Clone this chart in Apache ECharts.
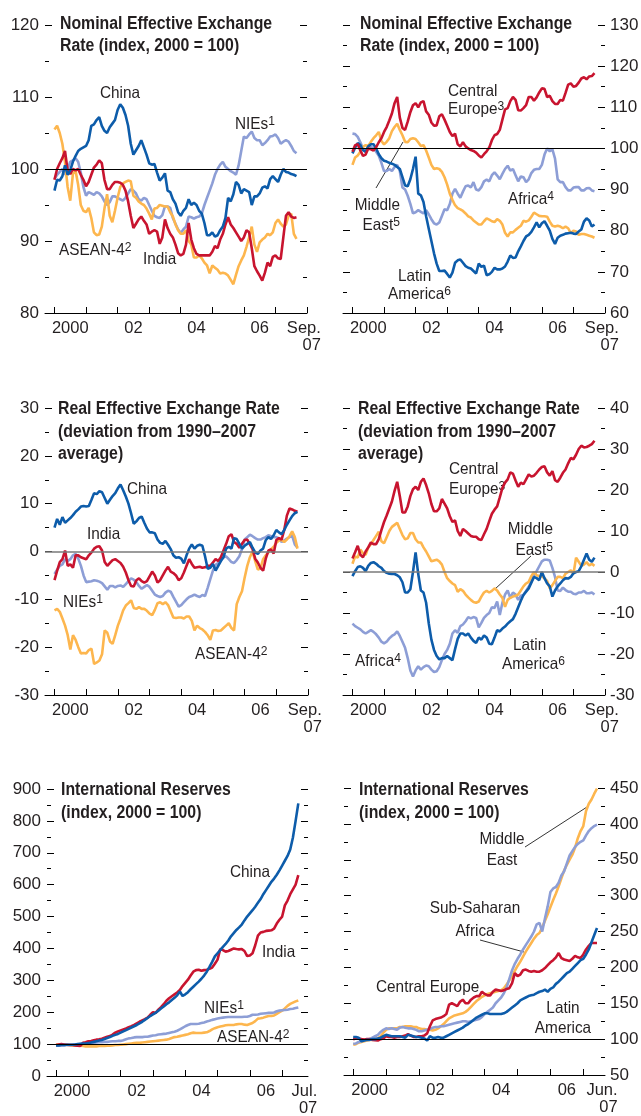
<!DOCTYPE html>
<html>
<head>
<meta charset="utf-8">
<script src="https://cdn.jsdelivr.net/npm/echarts@6.0.0/dist/echarts.min.js"></script>
<style>
html, body { margin: 0; padding: 0; background: #fff; }
#chart { width: 641px; height: 1116px; }
</style>
</head>
<body>
<div id="chart"></div>
<script>
// monthly data, Jan 2000 onwards
var yearTicks = [2000, 2001, 2002, 2003, 2004, 2005, 2006, 2007, 2008];
var yearLabels = ['2000', '02', '04', '06'];
var yearLabelPos = [2000.5, 2002.5, 2004.5, 2006.5];

// 1. nominal effective exchange rate, Asia
var nomChina = [97, 98.5, 98.4, 99, 100.5, 99.2, 99.8, 101, 101.8, 102.5,
  102.8, 103, 103.2, 104, 106, 106.2, 106.8, 107.2, 106, 105.3,
  105, 105.8, 106.3, 106.8, 108.2, 109, 108.5, 107.5, 106, 103.5,
  102, 102.6, 103.2, 104, 103, 102, 100.8, 100.6, 100.7, 99.5,
  98.4, 98.8, 99.4, 97, 96.8, 95.8, 95.2, 94, 93.5, 94.2,
  94.6, 95.8, 95, 95.3, 95, 94.2, 93.8, 92.5, 90.8, 90.8,
  91.2, 90.6, 90.8, 91.5, 92, 93.2, 96, 95.5, 96.5, 98.2,
  97.8, 96.6, 97.2, 97, 96.8, 95, 96.2, 96.2, 96.6, 97.4,
  97.6, 97.3, 98.6, 99, 98.6, 98.2, 99.2, 100, 99.6, 99.5,
  99.3, 99.2, 99];
var nomAsean = [105.5, 106, 105, 103.5, 101, 97.5, 95.6, 99.3, 99.8, 97.8,
  95, 94.2, 94, 94.6, 93.2, 91.2, 90.8, 90.9, 92, 94.5,
  96.5, 93.5, 92.6, 94.2, 96, 97.5, 98, 98.2, 98.4, 98.3,
  96.3, 96, 95.5, 95.2, 95, 94.5, 93.8, 93, 94.5, 94.6,
  95, 94.9, 94.8, 94.8, 94, 93.4, 92.3, 91.5, 91, 91,
  91.5, 90, 89.5, 87.7, 87.7, 88, 87.6, 87, 86.6, 85.5,
  86.6, 86.3, 86, 85.5, 85.6, 85.5, 85.2, 84.6, 84, 85.3,
  86.5, 87.3, 88, 89.2, 90.5, 92, 89.5, 88.5, 89.8, 90.2,
  90.5, 91, 90.8, 91.2, 92.5, 93, 92.4, 92, 92.3, 93.5,
  93.8, 91, 90.3];
var nomIndia = [98.5, 100, 100.8, 101.5, 102.5, 99.8, 99.3, 100, 99.8, 100,
  99.2, 98.5, 97.6, 98.2, 99.2, 100.2, 100.6, 101.2, 100.8, 98.5,
  97.2, 97.2, 97.8, 98.2, 98.2, 98.1, 97.8, 97, 95.5, 93.5,
  91.8, 92.4, 93, 93.4, 92.8, 92.3, 91, 91.3, 91.5, 91.3,
  89.6, 90.5, 93, 91.8, 91, 90.5, 89.5, 88.3, 88, 88.2,
  89.5, 92.5, 90.2, 89, 88.2, 88, 88, 88, 88, 88,
  88.5, 89.3, 89, 90.2, 91, 92.3, 93.3, 92.3, 91.8, 91.2,
  90.6, 90, 90.5, 91.5, 91.2, 89, 86.5, 85.8, 85.2, 84.5,
  85.6, 87, 86.5, 87.8, 88, 87.6, 87.5, 90.5, 93.5, 94,
  93.4, 93.2, 93.3];
var nomNies = [98.6, 99.2, 99.6, 100, 99.2, 100, 101, 101.2, 101.5, 101,
  99.5, 97.5, 96.3, 96.8, 96.6, 96.4, 96.8, 96.6, 96.2, 95.5,
  95, 95.4, 96.2, 96.2, 96, 95.8, 95.6, 96, 96.6, 97.2,
  97, 96.6, 95.8, 95.6, 96, 95.8, 95, 94.2, 93.5, 93.3,
  93.2, 93.6, 94.8, 94.8, 94.6, 93.2, 92.4, 91.6, 91.1, 91.6,
  92, 93.4, 93.3, 93.1, 93.3, 93.4, 93.8, 95, 96, 97,
  98, 99.2, 100, 100.6, 101, 100.3, 100, 99.7, 99.5, 99.2,
  100.5, 102.5, 104.5, 104.3, 104.8, 105.2, 104.3, 104, 104, 103.3,
  103.6, 104, 104.5, 104.6, 104.8, 104.3, 103.5, 103.8, 104, 103.8,
  103.2, 102.5, 102.2];

// 2. nominal effective exchange rate, other regions
var nomCentEur = [99.2, 100.8, 101, 99.5, 98.2, 98.5, 100, 99.8, 99.5, 100.3,
  101.5, 102.5, 104, 105.2, 106.8, 108.5, 111, 112.5, 107.5, 105,
  104.5, 106.5, 108.8, 110.5, 111, 110, 111.2, 111.5, 109, 108.2,
  106.3, 105.5, 105.6, 107.8, 108.3, 107, 105.5, 104, 103, 103.6,
  101, 100.5, 101.5, 100.5, 100, 99.6, 99.4, 99, 98.3, 97.8,
  98.6, 99.3, 100.2, 102, 103.2, 103.5, 104.5, 107, 109.5, 109.8,
  111.5, 112.5, 111.8, 109.3, 109.2, 109.8, 110.5, 112.5, 112.5, 111.6,
  112.4, 113.6, 114.6, 114.5, 112.5, 112.8, 111.5, 110.8, 110.8, 111.8,
  111.6, 113.5, 115.5, 115.8, 115, 115.2, 116, 117, 117.3, 116.8,
  117.5, 117.6, 118.3];
var nomMidEast = [96, 97.8, 98.3, 99.2, 100.4, 100.8, 100.6, 101.6, 102.5, 103.2,
  104, 101.8, 101, 101.6, 102.5, 104.2, 105.2, 106, 104.5, 103.2,
  101.6, 101.5, 102.3, 102.5, 102.3, 101.5, 100.6, 100.8, 99.5, 97.8,
  96, 95, 95.2, 95, 94.3, 93, 91.2, 89, 87.5, 86.2,
  85.5, 85.2, 84.8, 84.2, 83.5, 83.2, 82.5, 82, 81.5, 81.5,
  82.3, 83, 82.7, 82.3, 82.1, 82.8, 82.4, 81.5, 79.5, 78.6,
  79.6, 79.6, 80.2, 80.7, 81.2, 82.4, 82.2, 82.5, 83.4, 84.4,
  84, 83.6, 83.5, 83.5, 83.4, 82.2, 81.2, 81, 81.2, 81,
  80.6, 81, 80.6, 79.4, 80, 79.8, 79, 79.2, 79.2, 79,
  78.8, 78.6, 78.3];
var nomAfrica = [103.6, 103.5, 102.8, 101.5, 100, 99, 100.8, 100.4, 100, 99.2,
  98.2, 96.5, 94.5, 94.5, 95, 94.5, 95.5, 96, 94.5, 90.5,
  90, 88.5, 86.5, 84.2, 84.5, 85, 84.6, 84.2, 85, 84,
  82.8, 81.8, 81.5, 82, 83.6, 85.2, 85, 86.5, 89, 90.2,
  89, 88, 89.5, 90.8, 91, 90.5, 91.8, 90, 89.8, 90.6,
  92, 92.4, 92, 93.5, 94.2, 93.4, 92.5, 93.8, 95, 95.8,
  94.6, 95, 93.5, 92, 93.2, 93, 91.8, 92.5, 94, 94.8,
  95, 95, 96, 98.5, 100, 99.3, 99.8, 97.5, 92.5, 91.8,
  91.8, 90.6, 89.8, 89.8, 90.5, 90.6, 90.6, 89.8, 89.8, 90.3,
  90.4, 89.8, 89.6];
var nomLatAm = [98.8, 100.2, 101.3, 100.8, 99.6, 99.2, 100.5, 101, 101, 100,
  98.6, 97.6, 97, 96.8, 96.5, 96.3, 96, 95.5, 95, 93,
  91, 90.8, 92.5, 95, 98, 89, 88.6, 87, 83.5, 80.5,
  77.5, 74.5, 72, 70.2, 70.2, 70.3, 69.5, 68.6, 69.8, 72.2,
  72.8, 73, 72.2, 71.4, 71, 70.8, 70.2, 69.6, 72, 71.2,
  71.5, 69.2, 69.4, 70, 71, 70.6, 70.6, 70.8, 71.3, 72.5,
  74, 73.4, 73.5, 75, 76.2, 77.5, 78.6, 79, 79.7, 80.8,
  82, 80.8, 81.8, 82.3, 81.2, 80, 78, 76.8, 78.3, 78.8,
  79, 79.3, 79.4, 79.5, 79.3, 79.2, 79.8, 80.3, 82.2, 83,
  82.5, 81, 81.5];

// 3. real effective exchange rate, Asia
var realChina = [5, 6.8, 5.6, 7.2, 6, 6.5, 7, 7.6, 8.3, 8.8,
  9.4, 9.5, 9.4, 9.5, 10.8, 12.2, 12, 12.6, 12.4, 11.2,
  10, 10.8, 11.6, 12.2, 13.2, 14, 12.8, 11.5, 10, 8,
  5.8, 6.3, 7, 7.3, 6, 4.8, 4, 4, 3.8, 2.5,
  1.8, 1.6, 2.2, 1.4, 0.5, -0.8, -1.3, -1.2, -1.5, -2.5,
  -0.8, 0.6, 1.5, 0.6, 1.2, 1.4, 1.2, -1, -3.6, -3.4,
  -2.6, -4, -3, -2, -1.2, 0.6, 1, 0.6, 2.8, 2.6,
  1.6, 0.6, 1.2, 1.6, 2, 0.8, -0.2, -0.5, 0.2, 0.6,
  2.4, 3, 2.6, 3.4, 4.5, 4, 3.6, 4.5, 5.6, 6.5,
  7.4, 8, 8.3];
var realIndia = [-6, -4, -2.2, -1.6, 0.2, -3, -2.7, -3.4, -0.8, -0.8,
  -1.2, -1.4, -1.6, -0.8, -0.2, 0.6, 1, 1.1, 0.2, -2.2,
  -3, -2.4, -1.8, -1.6, -2, -2.4, -3.2, -4.4, -6, -7.2,
  -7.3, -6, -5.6, -6.2, -6.5, -6.2, -5.2, -4.2, -5, -6.5,
  -6, -5, -4, -3.2, -4.2, -4.5, -5, -6, -5.6, -4.4,
  -3, -1.6, -2.6, -3.4, -3.3, -3.2, -3.4, -3.3, -3, -3,
  -2.3, -1.6, -2, -1.2, 0.2, 1.6, 3.2, 3.6, 2, 1.6,
  0.8, 1.6, 2.4, 2.5, 1.5, 0.5, -1.5, -2.3, -3.4, -4,
  -1.5, 0.2, 0.4, -0.4, 2.4, 2.8, 2.5, 4.5, 7.5, 9,
  8.8, 8.5, 8.3];
var realNies = [-4.7, -3.8, -3, -2.7, -1.6, -2, -1.6, -0.8, -0.5, -1.5,
  -3, -5, -6.4, -6.3, -6.2, -6, -6.1, -6.3, -6.6, -7.3,
  -8, -7.2, -7.2, -7.5, -7.2, -7.1, -7.4, -6.8, -6.2, -5.6,
  -5.9, -6.4, -7.2, -7.8, -7.4, -7, -7.4, -8.2, -9, -9.3,
  -9.5, -9.3, -8.6, -8.2, -8.4, -9.5, -10.5, -11.5, -11.2, -10.6,
  -10, -9.5, -9.3, -9, -9.3, -9.5, -9.1, -9.3, -7.6, -5.8,
  -4, -2.8, -2.4, -1.6, -1.2, -1, -1.6, -2.2, -2.4, -1.8,
  -1, 0.5, 2.5, 3, 3.5, 3.2, 2.8, 2.5, 2.5, 2.8,
  3, 3.4, 3.2, 3, 3, 2.8, 2, 2.3, 2.7, 3,
  3.3, 1.5, 0.8];
var realAsean = [-12.3, -12, -12.6, -14, -15.5, -17.5, -20.5, -17.5, -18.5, -20,
  -21.3, -21.2, -21.3, -20.6, -20.3, -23.5, -23.2, -22.8, -21.5, -16.5,
  -17, -18.8, -19.3, -17.5, -15.5, -14, -12.3, -11.3, -10.8, -10.2,
  -11.8, -12, -11.6, -12, -12, -12.4, -13, -13.3, -12.2, -10.8,
  -10.6, -11, -10.6, -11.2, -12.5, -13.8, -13.9, -13.8, -13.8, -14,
  -13.6, -13.6, -14.5, -16.5, -15.5, -16, -16.3, -16.8, -17.5, -18.5,
  -16.5, -16.4, -16.6, -16.5, -16, -15.5, -15, -16, -16.5, -11,
  -9.5, -8.3, -5.5, -3, -1.2, 0, -2, -3.8, -3.5, -1.6,
  -0.8, -0.2, 0.5, 1, 1.8, 2.3, 2.4, 2, 2.5, 3.2,
  4.2, 3, 0.6];

// 4. real effective exchange rate, other regions
var realCentEur = [3.3, 4.8, 6.4, 4.2, 3.6, 5, 6, 7.2, 6.8, 6.8,
  8, 10.2, 12.2, 13.8, 15.5, 17.2, 19.8, 22, 18.5, 14.5,
  14.5, 16, 18.5, 20.2, 20.8, 20, 22, 22.8, 21.2, 19.2,
  16.6, 14.8, 14.8, 15.5, 17.8, 16.7, 15.5, 13.6, 12.2, 12.6,
  10, 8.8, 10.5, 10, 9.4, 8.8, 8.6, 8.6, 8, 7.8,
  9.2, 10.5, 12.4, 14.2, 15.2, 16, 18.2, 20.5, 21.8, 22.6,
  24.3, 24, 22.3, 20.8, 21.8, 21.4, 22.6, 23.8, 23.3, 23.5,
  24.2, 25, 25.6, 25.8, 24.3, 23.5, 24.6, 22.4, 22, 23,
  24.2, 25, 26.5, 27.8, 27.5, 28.6, 30, 30.8, 30.4, 30.5,
  30.8, 31.2, 32];
var realMidEast = [2, 3.8, 3.5, 5.5, 4.6, 4.2, 6, 6.8, 7.8, 8.8,
  9.8, 7.5, 7, 8.5, 10, 11, 11.5, 12, 10.5, 9,
  8, 8.2, 9.5, 9.5, 8, 7.2, 7.2, 6, 5, 3.8,
  2.6, 2.8, 3, 2.6, 1.8, 0, -1.5, -2.2, -2.8, -3.2,
  -4.8, -4.2, -4.6, -5.5, -6.2, -6.8, -7.3, -7.5, -7.2, -6,
  -5, -4.6, -5, -4.6, -4, -4.5, -5.5, -6.3, -8.5, -6.8,
  -6.3, -6, -5.8, -5.5, -4.5, -3.5, -2.8, -2.4, -1, 0,
  -0.8, -1, -1, -1.6, -2.2, -4, -3.2, -2.2, -1.2, -1.2,
  -1.5, -0.4, 0, 0.4, -0.5, 3.5, 2.5, 1.5, 1.8, 2.4,
  1.6, 2, 1.5];
var realAfrica = [-12.6, -13.2, -13.6, -14, -14.6, -15, -14.6, -14.2, -14.6, -15.2,
  -16, -17, -17.4, -17, -16.2, -15.6, -15.2, -14.5, -15.6, -17,
  -18.5, -21, -24, -25.5, -24, -23, -23.8, -23.2, -22.8, -23,
  -23.8, -24.4, -24.2, -23.2, -21.5, -20, -19, -17.5, -15, -14.2,
  -14.8, -13.2, -12.8, -12, -11, -11.3, -11, -11.2, -13.5, -12.4,
  -11.2, -10.5, -10, -8.6, -8.8, -7.2, -10.5, -7.5, -5.5, -4.5,
  -6.3, -5, -5.5, -6.8, -5.8, -5.6, -4.6, -3.6, -2.4, -0.8,
  0.2, 1.4, 2.6, 3, 3, 2.8, 1, -1.2, -4.5, -4.6,
  -3.8, -4.4, -4.8, -4.8, -5.3, -5.4, -5, -5, -4.6, -5.2,
  -5.2, -5, -5.5];
var realLatAm = [-1, 0.2, 1.2, 1.4, 1, 0.2, 1.5, 2.2, 2.4, 2,
  1.4, 1, 0.2, -0.2, -0.4, -0.5, -0.5, -0.8, -1.3, -2.5,
  -5, -5, -4.2, 0, 4.8, -0.5, -4.5, -5, -7.5, -12.5,
  -16.5, -19, -20.5, -21.3, -21, -21, -20.5, -21, -21.5, -18.8,
  -16.3, -15, -15, -15.5, -15, -16, -16.8, -17.3, -16, -16.5,
  -15.5, -16, -17.5, -17.6, -16, -14.2, -14.5, -13.8, -13.3, -12.6,
  -12, -11.5, -10.2, -8.6, -7, -5.6, -4.8, -4, -2.6, -1.2,
  -1.5, -2, 0, -1.5, -2.8, -3.5, -6, -4.5, -3.5, -2.8,
  -2, -1.5, -1.6, -1.2, -0.3, 0, 0.2, 1.4, 3, 4.5,
  3, 2.5, 3.5];

// 5. international reserves, Asia (to Jul 2007)
var resChina = [96, 96, 97, 97, 98, 98, 98, 99, 100, 101,
  102, 102, 103, 105, 107, 109, 111, 113, 116, 119,
  122, 126, 129, 132, 136, 140, 144, 148, 152, 156,
  160, 165, 170, 176, 182, 188, 193, 198, 205, 212,
  218, 225, 231, 238, 245, 253, 265, 251, 256, 263,
  272, 280, 288, 296, 305, 315, 327, 342, 358, 375,
  385, 395, 405, 414, 425, 438, 448, 458, 466, 475,
  488, 500, 510, 520, 531, 543, 555, 570, 583, 596,
  609, 619, 631, 645, 660, 675, 690, 710, 748, 800,
  855];
var resIndia = [97, 99, 100, 99, 98, 97, 97, 96, 95, 94,
  104, 106, 109, 110, 112, 114, 115, 117, 120, 123,
  125, 130, 136, 140, 143, 146, 149, 153, 156, 160,
  165, 170, 174, 178, 183, 192, 200, 198, 208, 216,
  225, 236, 244, 250, 256, 262, 270, 282, 292, 302,
  315, 327, 332, 333, 330, 332, 333, 336, 340, 352,
  365, 398, 395, 390, 392, 396, 400, 398, 397, 398,
  392, 376, 378, 385, 410, 440, 450, 452, 455, 456,
  457, 462, 478, 490, 500, 535, 550, 570, 585, 600,
  630];
var resNies = [95, 95, 96, 96, 97, 97, 98, 98, 99, 100,
  101, 102, 103, 104, 104, 105, 106, 106, 107, 107,
  108, 109, 109, 110, 110, 112, 115, 118, 119, 121,
  122, 122, 122, 123, 123, 125, 127, 128, 130, 131,
  132, 133, 135, 137, 139, 142, 146, 151, 156, 160,
  163, 163, 163, 164, 166, 168, 171, 173, 176, 178,
  180, 182, 183, 184, 185, 185, 185, 185, 185, 185,
  186, 186, 188, 192, 192, 193, 195, 196, 197, 198,
  198, 199, 203, 205, 206, 207, 208, 210, 211, 213,
  215];
var resAsean = [98, 99, 98, 98, 97, 97, 96, 96, 95, 95,
  94, 93, 93, 93, 93, 93, 94, 94, 94, 95,
  95, 96, 97, 97, 98, 99, 100, 101, 102, 103,
  104, 104, 105, 106, 107, 108, 109, 110, 111, 112,
  113, 114, 116, 119, 122, 123, 125, 127, 129, 131,
  134, 136, 135, 135, 135, 136, 137, 141, 146, 150,
  153, 155, 157, 159, 160, 160, 160, 162, 163, 163,
  161, 160, 163, 166, 172, 180, 181, 183, 186, 188,
  188, 190, 195, 200, 205, 212, 220, 226, 230, 234,
  237];

// 6. international reserves, other regions (to Jun 2007)
var resMidEast = [92, 93, 95, 96, 97, 98, 99, 99, 100, 101,
  104, 109, 113, 115, 115, 115, 115, 117, 117, 118,
  118, 118, 117, 117, 115, 114, 114, 113, 113, 112,
  113, 115, 118, 121, 125, 129, 131, 133, 134, 135,
  136, 138, 141, 145, 149, 153, 156, 159, 161, 163,
  164, 165, 166, 167, 168, 171, 176, 182, 188, 195,
  202, 208, 215, 222, 228, 234, 240, 245, 248, 256,
  265, 274, 284, 294, 303, 313, 324, 335, 343, 350,
  357, 367, 380, 390, 397, 418, 428, 434, 442, 449];
var resAfrica = [93.5, 94, 96, 97, 98, 99, 100, 102, 104, 106,
  110, 113, 115, 114, 115, 114, 113, 116, 117, 116,
  115, 115, 114, 113, 111, 111, 112, 113, 114, 116,
  117, 117, 118, 118, 119, 120, 121, 122, 123, 124,
  125, 125, 124, 125, 126, 127, 128, 131, 135, 138,
  141, 144, 150, 154, 158, 164, 172, 184, 196, 205,
  212, 218, 225, 231, 237, 243, 250, 260, 262, 250,
  268, 285, 305, 310, 312, 318, 328, 334, 345, 356,
  362, 368, 372, 375, 377, 384, 390, 394, 397, 399];
var resCentEur = [100, 101, 101, 100, 99.5, 100, 100, 99, 98.5, 98,
  100, 101, 104, 103, 103, 102, 103, 103, 104, 105,
  107, 105, 103, 103, 104, 104, 105, 108, 118, 126,
  128, 129, 130, 132, 135, 148, 150, 148, 146, 152,
  155, 150, 150, 155, 158, 160, 160, 166, 163, 161,
  161, 166, 169, 168, 167, 168, 170, 171, 178, 192,
  188, 190, 196, 197, 195, 194, 195, 194, 194, 196,
  199, 203, 207, 210, 214, 220, 213, 211, 210, 209,
  212, 216, 214, 213, 218, 225, 230, 234, 234, 234];
var resLatAm = [103, 103, 102, 97, 98, 99, 99, 100, 100, 101,
  102, 104, 106, 105, 104, 104, 104, 104, 103, 102,
  106, 105, 104, 103, 103, 102, 101, 98, 104, 102,
  102, 103, 102, 102, 104, 106, 108, 110, 112, 114,
  116, 119, 121, 124, 127, 130, 132, 134, 136, 136,
  135, 135, 135, 135, 135, 136, 138, 141, 144, 147,
  150, 154, 156, 158, 160, 161, 162, 164, 166, 167,
  169, 166, 170, 172, 177, 180, 184, 188, 192, 194,
  198, 202, 206, 210, 212, 218, 225, 235, 245, 255];

var FONT = '"Liberation Sans", Arial, sans-serif';
var TXT = '#231f20';
var BLUE = '#0d5caa', RED = '#c8142f', ORANGE = '#fdb64e', LAV = '#8d9ed6';

// month index -> fractional year
function pts(arr) {
  return arr.map(function (v, i) { return [2000 + i / 12, v]; });
}

var panels = [
  { grid: { left: 45, top: 25, width: 262, height: 288 }, x: [1999.7, 2008], last: [2007.9, 'Sep.'],
    y: [80, 120, 10], side: 'left', ref: 100, refColor: '#000', refWidth: 1,
    lines: [[nomNies, LAV], [nomAsean, ORANGE], [nomIndia, RED], [nomChina, BLUE]] },
  { grid: { left: 343, top: 25, width: 262, height: 288 }, x: [1999.7, 2008], last: [2007.9, 'Sep.'],
    y: [60, 130, 10], side: 'right', ref: 100, refColor: '#000', refWidth: 1,
    lines: [[nomAfrica, LAV], [nomMidEast, ORANGE], [nomLatAm, BLUE], [nomCentEur, RED]] },
  { grid: { left: 45, top: 408, width: 263, height: 287 }, x: [1999.7, 2008], last: [2007.9, 'Sep.'],
    y: [-30, 30, 10], side: 'left', ref: 0, refColor: '#7a7a7a', refWidth: 1.6,
    lines: [[realNies, LAV], [realAsean, ORANGE], [realIndia, RED], [realChina, BLUE]] },
  { grid: { left: 343, top: 408, width: 262, height: 287 }, x: [1999.7, 2008], last: [2007.9, 'Sep.'],
    y: [-30, 40, 10], side: 'right', ref: 0, refColor: '#7a7a7a', refWidth: 1.6,
    lines: [[realAfrica, LAV], [realMidEast, ORANGE], [realCentEur, RED], [realLatAm, BLUE]] },
  { grid: { left: 47, top: 789, width: 261, height: 287 }, x: [1999.72, 2007.8], last: [2007.69, 'Jul.'],
    y: [0, 900, 100], side: 'left', ref: 100, refColor: '#000', refWidth: 1,
    lines: [[resAsean, ORANGE], [resNies, LAV], [resIndia, RED], [resChina, BLUE]] },
  { grid: { left: 344, top: 788, width: 261, height: 287 }, x: [1999.72, 2007.66], last: [2007.57, 'Jun.'],
    y: [50, 450, 50], side: 'right', ref: 100, refColor: '#000', refWidth: 1,
    lines: [[resMidEast, ORANGE], [resAfrica, LAV], [resCentEur, RED], [resLatAm, BLUE]] }
];

var grids = [], xAxes = [], yAxes = [], series = [];

panels.forEach(function (p, i) {
  var g = p.grid;
  grids.push({ left: g.left, top: g.top, width: g.width, height: g.height, outerBoundsMode: 'none' });

  xAxes.push({
    gridIndex: i, type: 'value', min: p.x[0], max: p.x[1],
    axisLine: { onZero: false, lineStyle: { color: '#000', width: 1 } },
    axisTick: { inside: true, length: 6, lineStyle: { color: '#000' },
      customValues: yearTicks.filter(function (t) { return t <= p.x[1] + 0.001; }) },
    axisLabel: {
      customValues: yearLabelPos.concat([p.last[0]]),
      color: TXT, fontFamily: FONT, fontSize: 16.5, margin: 7,
      formatter: function (v) {
        var k = yearLabelPos.indexOf(v);
        if (k >= 0) return yearLabels[k];
        return '{m|' + p.last[1] + '}\n{y|07}';
      },
      rich: {
        m: { color: TXT, fontFamily: FONT, fontSize: 16.5, lineHeight: 17 },
        y: { color: TXT, fontFamily: FONT, fontSize: 16.5, lineHeight: 17, align: 'right' }
      }
    },
    splitLine: { show: false }
  });

  ['left', 'right'].forEach(function (pos) {
    yAxes.push({
      gridIndex: i, type: 'value', position: pos,
      min: p.y[0], max: p.y[1], interval: p.y[2],
      axisLine: { show: false, onZero: false },
      axisTick: { show: true, inside: true, length: 7, lineStyle: { color: '#000' } },
      minorTick: { show: true, splitNumber: 2, length: 4, lineStyle: { color: '#000' } },
      axisLabel: { show: pos === p.side, color: TXT, fontFamily: FONT, fontSize: 17, margin: pos === 'left' ? 6 : 5 },
      splitLine: { show: false }
    });
  });

  p.lines.forEach(function (l, k) {
    var s = {
      type: 'line', xAxisIndex: i, yAxisIndex: i * 2, data: pts(l[0]),
      showSymbol: false, silent: true, animation: false,
      lineStyle: { color: l[1], width: 2.6 }, itemStyle: { color: l[1] }
    };
    if (k === 0) {
      s.markLine = {
        silent: true, symbol: ['none', 'none'], label: { show: false }, animation: false,
        lineStyle: { color: p.refColor, width: p.refWidth, type: 'solid' },
        data: [{ yAxis: p.ref }]
      };
    }
    series.push(s);
  });
});

// titles and series labels
var titles = [
  [60, 13, 22, ['Nominal Effective Exchange', 'Rate (index, 2000 = 100)']],
  [360, 13, 22, ['Nominal Effective Exchange', 'Rate (index, 2000 = 100)']],
  [58, 398, 22.5, ['Real Effective Exchange Rate', '(deviation from 1990\u20132007', 'average)']],
  [358, 398, 22.5, ['Real Effective Exchange Rate', '(deviation from 1990\u20132007', 'average)']],
  [61, 778, 23.4, ['International Reserves', '(index, 2000 = 100)']],
  [359, 778, 23.4, ['International Reserves', '(index, 2000 = 100)']]
];

var labels = [
  ['China', 100, 93, 'left'], ['NIEs{s|1}', 235, 124, 'left'],
  ['ASEAN-4{s|2}', 59, 250, 'left'], ['India', 143, 259, 'left'],

  ['Central', 448, 91, 'left'], ['Europe{s|3}', 448, 109, 'left'],
  ['Middle', 400, 205.5, 'right'], ['East{s|5}', 400, 225, 'right'],
  ['Africa{s|4}', 508, 199, 'left'],
  ['Latin', 398, 276, 'left'], ['America{s|6}', 388, 294, 'left'],

  ['China', 127, 489.5, 'left'], ['India', 87, 534.5, 'left'],
  ['NIEs{s|1}', 63, 602, 'left'], ['ASEAN-4{s|2}', 195, 654.5, 'left'],

  ['Central', 449, 469.5, 'left'], ['Europe{s|3}', 449, 489.5, 'left'],
  ['Middle', 553, 529, 'right'], ['East{s|5}', 553, 550, 'right'],
  ['Africa{s|4}', 355, 661, 'left'],
  ['Latin', 513, 645.5, 'left'], ['America{s|6}', 502, 664.5, 'left'],

  ['China', 230, 872.5, 'left'], ['India', 262, 952.5, 'left'],
  ['NIEs{s|1}', 204, 1008.5, 'left'], ['ASEAN-4{s|2}', 217, 1037.5, 'left'],

  ['Middle', 502, 839, 'center'], ['East', 502, 860.5, 'center'],
  ['Sub-Saharan', 475, 908.5, 'center'], ['Africa', 475, 931, 'center'],
  ['Central Europe', 376, 987, 'left'],
  ['Latin', 563, 1008, 'center'], ['America', 563, 1028, 'center']
];

var leaders = [[376, 188, 403, 142], [531, 556, 495, 589], [525, 847, 587, 807], [480, 940, 524, 952]];

var graphics = [];
titles.forEach(function (t) {
  graphics.push({
    type: 'text', silent: true, x: t[0], y: t[1], scaleX: 0.88,
    style: { x: 0, y: 0, text: t[3].join('\n'), fill: TXT, fontFamily: FONT, fontSize: 18,
      fontWeight: 'bold', lineHeight: t[2], align: 'left', verticalAlign: 'top' }
  });
});
labels.forEach(function (l) {
  graphics.push({
    type: 'text', silent: true, x: l[1], y: l[2], scaleX: 0.93,
    style: { x: 0, y: 0, text: l[0], fill: TXT, fontFamily: FONT, fontSize: 16.5,
      align: l[3], verticalAlign: 'middle',
      rich: { s: { fontFamily: FONT, fontSize: 13, fill: TXT, padding: [0, 0, 6, 0] } } }
  });
});
leaders.forEach(function (d) {
  graphics.push({
    type: 'line', silent: true,
    shape: { x1: d[0], y1: d[1], x2: d[2], y2: d[3] },
    style: { stroke: '#000', lineWidth: 0.8 }
  });
});

var myChart = echarts.init(document.getElementById('chart'));
myChart.setOption({
  animation: false,
  backgroundColor: '#fff',
  grid: grids,
  xAxis: xAxes,
  yAxis: yAxes,
  series: series,
  graphic: graphics
});
</script>
</body>
</html>
